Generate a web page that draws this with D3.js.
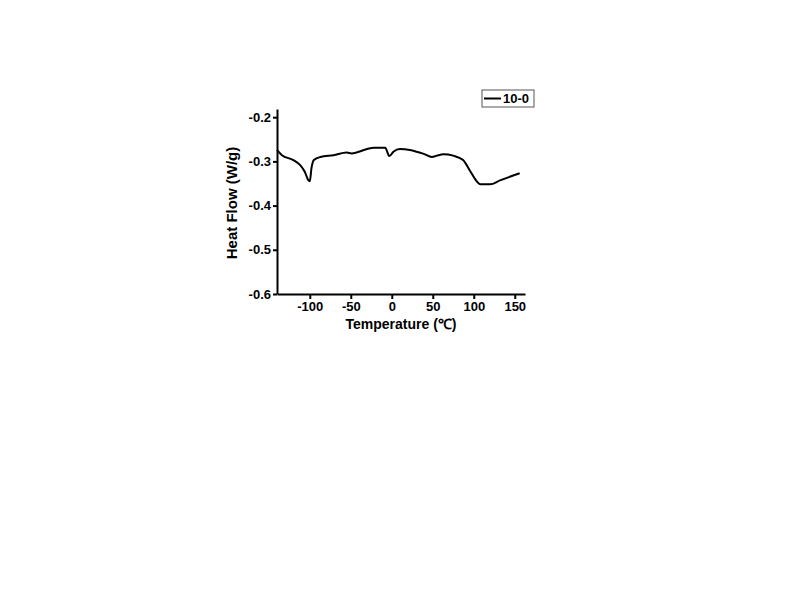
<!DOCTYPE html>
<html>
<head>
<meta charset="utf-8">
<script src="https://cdn.jsdelivr.net/npm/d3@7"></script>
<style>
  body { margin: 0; background: #fff; }
  svg { font-family: "Liberation Sans", Arial, sans-serif; font-weight: bold; }
  .axis path, .axis line { stroke: #000; stroke-width: 2; }
  .axis text { font-size: 13px; font-weight: bold; fill: #000; }
  .label { font-size: 14px; font-weight: bold; fill: #000; }
</style>
</head>
<body>
<svg width="800" height="600"></svg>
<script>
// temperature (C) and heat flow (W/g)
var temps = [-140, -134, -120, -112, -106, -102, -100, -98, -95, -87, -71, -55, -49, -30, -22,
             -8, -3, 2, 10, 22, 39, 49, 55, 63, 75, 87, 95, 104, 108, 120, 132, 156];
var flows = [-0.274, -0.286, -0.297, -0.308, -0.324, -0.342, -0.345, -0.316, -0.297, -0.290,
             -0.286, -0.280, -0.282, -0.272, -0.269, -0.269, -0.288, -0.278, -0.272, -0.274,
             -0.283, -0.290, -0.287, -0.284, -0.287, -0.297, -0.320, -0.346, -0.352, -0.352,
             -0.343, -0.327];
var xTicks = [-100, -50, 0, 50, 100, 150];
var yTicks = [-0.2, -0.3, -0.4, -0.5, -0.6];
var seriesName = "10-0";

var data = temps.map((t, i) => [t, flows[i]]);

var pArea = [277, 109, 525, 294];

var xScale = d3.scaleLinear()
  .domain([-140, 162.5])
  .range([pArea[0], pArea[2]]);

var yScale = d3.scaleLinear()
  .domain([-0.6, -0.1815])
  .range([pArea[3], pArea[1]]);

// plain hyphen for negatives, like the original
var fmtX = d => d3.format("d")(d).replace("\u2212", "-");
var fmtY = d => d3.format(".1f")(d).replace("\u2212", "-");

var svg = d3.select("svg");
var g = svg.append("g");

// x-axis
var xAxis = g.append("g")
  .attr("class", "axis")
  .attr("transform", `translate(0,${pArea[3]})`)
  .call(d3.axisBottom(xScale).tickValues(xTicks).tickSize(5).tickSizeOuter(0).tickFormat(fmtX));
xAxis.selectAll("text").attr("dy", "0.75em").attr("y", 7);

// y-axis
g.append("g")
  .attr("class", "axis")
  .attr("transform", `translate(${pArea[0]},0)`)
  .call(d3.axisLeft(yScale).tickValues(yTicks).tickSize(4).tickSizeOuter(0).tickFormat(fmtY))
  .selectAll("text").attr("x", -6);

g.append("text")
  .attr("class", "label")
  .attr("text-anchor", "middle")
  .attr("x", 401)
  .attr("y", 329)
  .text("Temperature (\u2103)");

g.append("text")
  .attr("class", "label")
  .attr("text-anchor", "middle")
  .attr("transform", "rotate(-90)")
  .style("font-size", "15px")
  .attr("x", -203)
  .attr("y", 237)
  .text("Heat Flow (W/g)");

// trace
var line = d3.line()
  .x(d => xScale(d[0]))
  .y(d => yScale(d[1]))
  .curve(d3.curveMonotoneX);

g.append("path")
  .datum(data)
  .attr("fill", "none")
  .attr("stroke", "#000")
  .attr("stroke-width", 2)
  .attr("d", line);

// legend
var legend = g.append("g").attr("transform", "translate(482,90)");
legend.append("rect")
  .attr("width", 52).attr("height", 17)
  .attr("fill", "#fff").attr("stroke", "#555").attr("stroke-width", 1);
legend.append("line")
  .attr("x1", 2).attr("x2", 19).attr("y1", 8.5).attr("y2", 8.5)
  .attr("stroke", "#000").attr("stroke-width", 2);
legend.append("text")
  .attr("class", "label")
  .style("font-size", "13px")
  .attr("x", 21).attr("y", 13)
  .text(seriesName);
</script>
</body>
</html>
